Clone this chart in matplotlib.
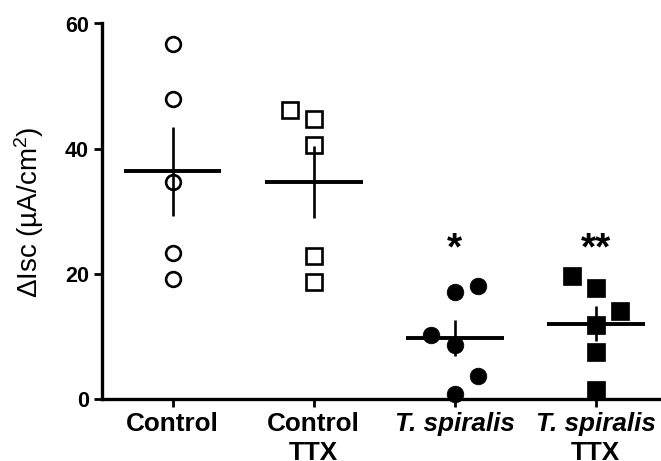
import numpy as np
import matplotlib
matplotlib.use("Agg")
import matplotlib.pyplot as plt

plt.rcParams['font.family'] = ['Liberation Sans', 'DejaVu Sans']
plt.rcParams['mathtext.fontset'] = 'custom'
plt.rcParams['mathtext.rm'] = 'Liberation Sans'
plt.rcParams['mathtext.it'] = 'Liberation Sans:italic'
plt.rcParams['mathtext.bf'] = 'Liberation Sans:bold'

# ---- data ----
categories = ["Control", "Control\nTTX", "T. spiralis", "T. spiralis\nTTX"]
control = [56.8, 47.9, 34.6, 23.4, 19.1]
control_ttx = [46.2, 44.8, 40.6, 22.8, 18.7]
tspiralis = [17.1, 18.1, 10.2, 8.6, 3.7, 0.8]
tspiralis_ttx = [19.6, 17.8, 14.1, 11.8, 7.5, 1.4]
# horizontal scatter jitter (category units)
jitter_control = [0, 0, 0, 0, 0]
jitter_control_ttx = [-0.165, 0, 0, 0, 0]
jitter_tspiralis = [0, 0.168, -0.17, 0, 0.168, 0]
jitter_tspiralis_ttx = [-0.168, 0, 0.17, 0, 0, 0]
significance = ["", "", "*", "**"]
significance_y = 23.9
yticks = [0, 20, 40, 60]
ylabel = "ΔIsc (µA/cm$^2$)"

groups = [control, control_ttx, tspiralis, tspiralis_ttx]
jitters = [jitter_control, jitter_control_ttx, jitter_tspiralis, jitter_tspiralis_ttx]
markers = ['o', 's', 'o', 's']
filled = [False, False, True, True]
msizes = [10.6, 11.2, 12.0, 12.3]

fig = plt.figure(figsize=(6.61, 4.61), dpi=100)
ax = fig.add_axes([102/661, 1-399/461, 1-102/661, (399-23.5)/461])

for i, (vals, jit) in enumerate(zip(groups, jitters)):
    vals = np.asarray(vals, dtype=float)
    xs = i + np.asarray(jit)
    if filled[i]:
        ax.plot(xs, vals, linestyle='none', marker=markers[i], ms=msizes[i],
                mfc='black', mec='black', mew=0.5, zorder=3, clip_on=False)
    else:
        ax.plot(xs, vals, linestyle='none', marker=markers[i], ms=msizes[i],
                mfc='white', mec='black', mew=1.9, zorder=3, clip_on=False)
    m = vals.mean()
    sem = vals.std(ddof=1) / np.sqrt(len(vals))
    ax.plot([i - 0.347, i + 0.347], [m, m], color='black', lw=2.8,
            solid_capstyle='butt', zorder=4)
    ax.plot([i, i], [m - sem, m + sem], color='black', lw=1.9,
            solid_capstyle='butt', zorder=4)
    if significance[i]:
        ax.text(i, significance_y, significance[i], ha='center', va='center',
                fontsize=28, fontweight='bold')

ax.set_xlim(-0.5, 3.463)
ax.set_ylim(0, 60)
ax.set_yticks(yticks)
ax.set_yticklabels([str(v) for v in yticks], fontsize=15.5, fontweight='bold')
ax.set_xticks(range(len(categories)))
ax.set_xticklabels([''] * len(categories))

for sp in ['top', 'right']:
    ax.spines[sp].set_visible(False)
for sp in ['left', 'bottom']:
    ax.spines[sp].set_linewidth(2.4)
ax.tick_params(axis='both', width=2.0, length=6, direction='out', color='black')
ax.tick_params(axis='y', pad=3.5)

for i, cat in enumerate(categories):
    for k, line in enumerate(cat.split("\n")):
        style = 'italic' if line.startswith('T. spiralis') else 'normal'
        ax.annotate(line, xy=(i, 0), xycoords=('data', 'axes fraction'),
                    xytext=(0, -9.5 - k * 20.7), textcoords='offset points',
                    ha='center', va='top', fontsize=18.8, fontweight='bold',
                    fontstyle=style, annotation_clip=False)

fig.text(29/661, 1-212/461, ylabel, rotation=90, ha='center', va='center',
         fontsize=20)

fig.savefig('out.png', dpi=100)
